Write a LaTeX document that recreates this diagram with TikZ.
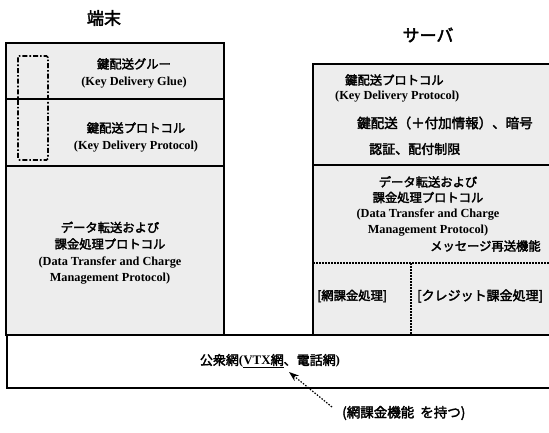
\documentclass[tikz,border=0pt]{standalone}
\usepackage{fontspec}
\setmainfont{Liberation Serif}
\newfontfamily\jp{Noto Sans CJK JP}[AutoFakeBold=2.5]
\usetikzlibrary{arrows.meta}
\begin{document}
\begin{tikzpicture}[x=1pt,y=-1pt,
  shaded/.style={fill=gray!14},
  frame/.style={draw=black,line width=2pt},
  divider/.style={draw=black,line width=1.8pt},
  dotline/.style={draw=black,line width=1.6pt,dash pattern=on 1.6pt off 1.4pt},
  dashbox/.style={draw=black,line width=1.6pt,rounded corners=1.5pt,dash pattern=on 5pt off 2pt on 1.6pt off 2pt},
  title/.style={font=\jp\bfseries\fontsize{17}{20}\selectfont,inner sep=0pt},
  txt/.style={font=\bfseries\fontsize{12.3}{16.5}\selectfont,align=center,inner sep=0pt},
  ltxt/.style={font=\bfseries\fontsize{12.3}{16.5}\selectfont,align=left,inner sep=0pt,anchor=west},
  note/.style={-{Stealth[length=10pt,width=7pt]},line width=1.2pt,dash pattern=on 1.5pt off 1.5pt}
]
\useasboundingbox (0,0) rectangle (549,433);
\clip (0,0) rectangle (549,433);

% titles
\node[title] (tanmatsu) at (104,18) {端末};
\node[title] (server) at (428,35) {サーバ};

% left box (terminal)
\fill[shaded] (6,43) rectangle (224,335);
\draw[divider] (6,99) -- (224,99);
\draw[divider] (6,166) -- (224,166);
\draw[frame] (6,43) rectangle (224,335);
\draw[dashbox] (18,56) rectangle (48,160);

\node[txt] (glue) at (134,73) {{\jp 鍵配送グルー}\\(Key Delivery Glue)};
\node[txt] (kdpL) at (136,137) {{\jp 鍵配送プロトコル}\\(Key Delivery Protocol)};
\node[txt] (dtL) at (110,253) {{\jp データ転送および}\\{\jp 課金処理プロトコル}\\(Data Transfer and Charge\\Management Protocol)};

% right box (server)
\fill[shaded] (313,64) rectangle (560,335);
\draw[divider] (313,165) -- (560,165);
\draw[dotline] (313,263) -- (560,263);
\draw[dotline] (411,263) -- (411,335);
\draw[frame] (313,64) rectangle (560,335);

\node[ltxt] (kdpR1) at (345,80) {\jp 鍵配送プロトコル};
\node[ltxt] (kdpR2) at (335,97) {(Key Delivery Protocol)};
\node[ltxt,font=\bfseries\fontsize{13.5}{16}\selectfont] (kdpR3) at (357,123) {\jp 鍵配送（＋付加情報）、暗号};
\node[ltxt,font=\bfseries\fontsize{13}{16}\selectfont] (kdpR4) at (369,149) {\jp 認証、配付制限};

\node[txt,font=\bfseries\fontsize{12.3}{15.5}\selectfont] (dtR) at (428,206) {{\jp データ転送および}\\{\jp 課金処理プロトコル}\\(Data Transfer and Charge\\Management Protocol)};
\node[ltxt] (resend) at (430,246) {\jp メッセージ再送機能};
\node[ltxt] (netcharge) at (317,296) {{\jp [網課金処理]}};
\node[ltxt,font=\bfseries\fontsize{13}{16}\selectfont] (credit) at (417,296) {{\jp [クレジット課金処理]}};

% network box
\draw[frame] (7,335) rectangle (560,388);
\node[txt,font=\bfseries\fontsize{13}{16}\selectfont] (net) at (270,361) {{\jp 公衆網}(\underline{VTX{\jp 網}}{\jp 、電話網})};

% annotation
\node[ltxt,font=\bfseries\fontsize{13.5}{16}\selectfont] (feat) at (342,413) {{\jp (網課金機能\ \ を持つ)}};
\coordinate (tip) at (289,372);
\draw[note] ([shift={(-10,-6)}]feat.west) -- (tip);
\end{tikzpicture}
\end{document}
